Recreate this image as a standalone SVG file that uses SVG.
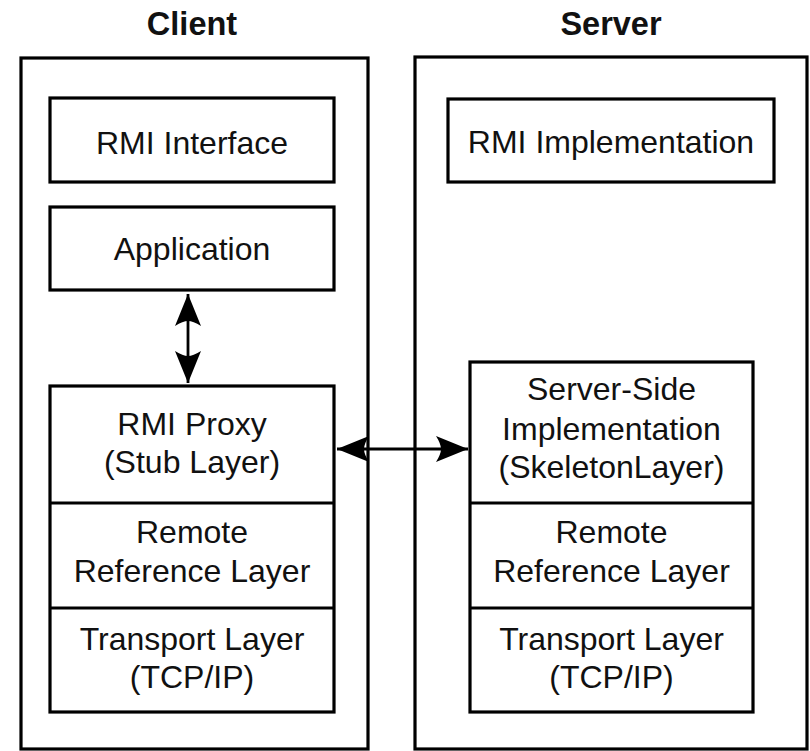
<svg xmlns="http://www.w3.org/2000/svg" width="810" height="751" viewBox="0 0 810 751">
<defs>
<style>
.box{fill:#fff;stroke:#000;stroke-width:3.2}
.div{stroke:#000;stroke-width:3.2}
.t{font-family:"Liberation Sans",Arial,Helvetica,sans-serif;font-size:32px;fill:#111;text-anchor:middle}
.title{font-family:"Liberation Sans",Arial,Helvetica,sans-serif;font-size:32.5px;font-weight:bold;fill:#111;text-anchor:middle}
.conn{stroke:#000;stroke-width:2.8;fill:none}
</style>
<marker id="ah" markerUnits="userSpaceOnUse" markerWidth="36" markerHeight="30" viewBox="-34 -15 36 30" refX="0" refY="0" orient="auto-start-reverse">
<path d="M0,0 L-32,-13 Q-27,-5 -27,0 Q-27,5 -32,13 Z" fill="#000"/>
</marker>
</defs>
<rect width="810" height="751" fill="#fff"/>
<text class="title" x="192" y="35">Client</text>
<text class="title" x="611" y="35">Server</text>
<g id="client">
<rect class="box" x="21" y="58" width="347" height="691"/>
</g>
<g id="server">
<rect class="box" x="415" y="57" width="392" height="692"/>
</g>
<g id="rmi-interface">
<rect class="box" x="50" y="98" width="284" height="84"/>
<text class="t" x="192" y="154">RMI Interface</text>
</g>
<g id="application">
<rect class="box" x="50" y="207" width="284" height="83"/>
<text class="t" x="192" y="260">Application</text>
</g>
<g id="rmi-implementation">
<rect class="box" x="448" y="99" width="326" height="83"/>
<text class="t" x="611" y="153">RMI Implementation</text>
</g>
<g id="client-stack">
<rect class="box" x="50" y="386" width="284" height="326"/>
<line class="div" x1="50" y1="503" x2="334" y2="503"/>
<line class="div" x1="50" y1="608" x2="334" y2="608"/>
<g id="rmi-proxy">
<text class="t" x="192" y="435">RMI Proxy</text>
<text class="t" x="192" y="473">(Stub Layer)</text>
</g>
<g id="client-rrl">
<text class="t" x="192" y="543">Remote</text>
<text class="t" x="192" y="582">Reference Layer</text>
</g>
<g id="client-transport">
<text class="t" x="192" y="650">Transport Layer</text>
<text class="t" x="192" y="688">(TCP/IP)</text>
</g>
</g>
<g id="server-stack">
<rect class="box" x="470" y="362" width="283" height="350"/>
<line class="div" x1="470" y1="503" x2="753" y2="503"/>
<line class="div" x1="470" y1="608" x2="753" y2="608"/>
<g id="skeleton">
<text class="t" x="611.5" y="400">Server-Side</text>
<text class="t" x="611.5" y="440">Implementation</text>
<text class="t" x="611.5" y="478">(SkeletonLayer)</text>
</g>
<g id="server-rrl">
<text class="t" x="611.5" y="543">Remote</text>
<text class="t" x="611.5" y="582">Reference Layer</text>
</g>
<g id="server-transport">
<text class="t" x="611.5" y="650">Transport Layer</text>
<text class="t" x="611.5" y="688">(TCP/IP)</text>
</g>
</g>
<g id="connectors">
<line class="conn" x1="188" y1="294" x2="188" y2="383" marker-start="url(#ah)" marker-end="url(#ah)"/>
<line class="conn" x1="337" y1="449" x2="468" y2="449" marker-start="url(#ah)" marker-end="url(#ah)"/>
</g>
</svg>
